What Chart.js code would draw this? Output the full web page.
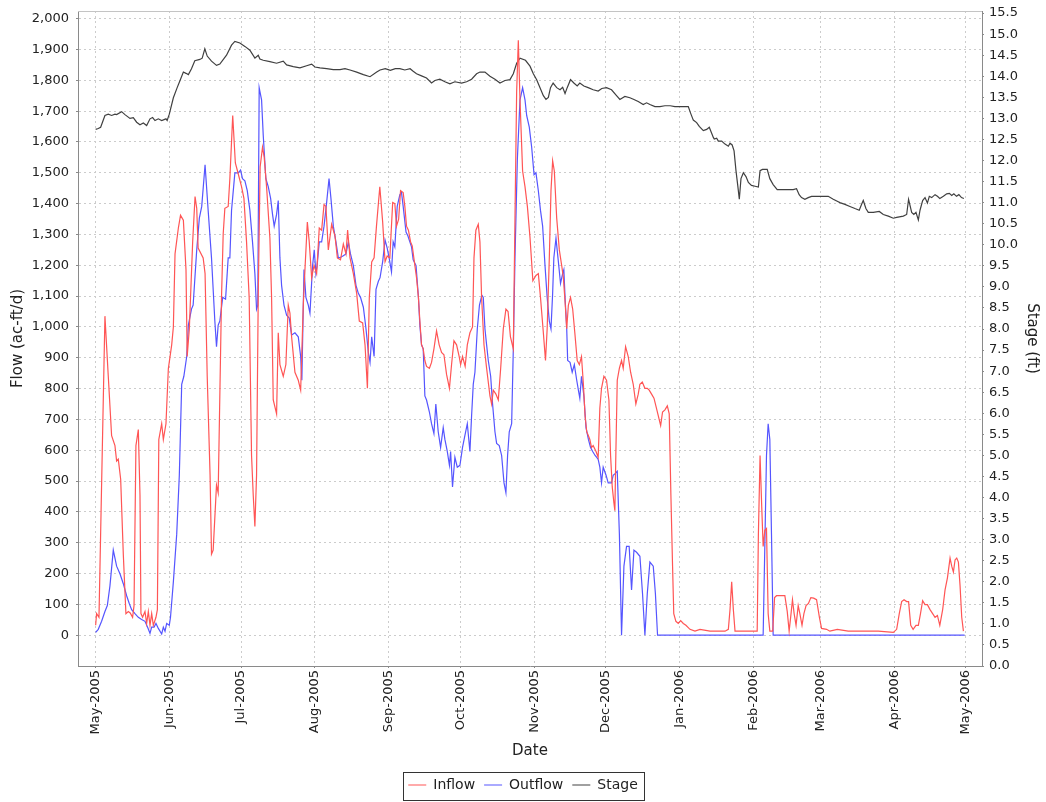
<!DOCTYPE html>
<html>
<head>
<meta charset="utf-8">
<title>Inflow, Outflow and Stage</title>
<script src="https://cdn.jsdelivr.net/npm/chart.js@4.4.1/dist/chart.umd.min.js"></script>
<style>
  html, body { margin: 0; padding: 0; background: #ffffff; }
  canvas { display: block; }
</style>
</head>
<body>
<canvas id="chart" width="1046" height="802"></canvas>
<script>
// Day 0 = 1 May 2005. Month boundaries used for the date axis.
const monthTickDays = [0, 31, 61, 92, 123, 153, 184, 214, 245, 276, 304, 335, 365];
const monthTickLabels = ['May-2005', 'Jun-2005', 'Jul-2005', 'Aug-2005', 'Sep-2005', 'Oct-2005',
  'Nov-2005', 'Dec-2005', 'Jan-2006', 'Feb-2006', 'Mar-2006', 'Apr-2006', 'May-2006'];

// Inflow, ac-ft/d: [day, flow]
const inflow = [
  [0,32],[0.4,70],[1.4,58],[3.9,1035],[5.3,840],[6.7,647],[8.1,615],[8.8,565],[9.5,571],[10.5,506],
  [11.6,263],[12.7,70],[13.7,77],[14.5,72],[15.5,58],[16.1,96],[16.9,615],[17.9,667],[18.6,455],[19,70],
  [19.7,58],[20.7,77],[21.4,38],[22.1,77],[22.8,32],[23.5,70],[24.2,32],[25.3,58],[25.9,83],[26.5,635],
  [27.7,686],[28.4,635],[29.5,686],[30.5,865],[31.9,942],[32.6,1000],[33.3,1237],[34.7,1321],[35.6,1362],[36.8,1346],
  [37.9,1186],[38.4,904],[39.3,994],[40.7,1276],[41.7,1423],[42.4,1385],[43,1256],[45.1,1224],[45.9,1173],[46.8,840],
  [48,519],[48.6,263],[49.3,276],[50.7,487],[51.4,462],[52.8,1096],[53.5,1301],[54.2,1385],[55.6,1391],[56.3,1481],
  [57.5,1686],[58.6,1532],[59.5,1506],[61.2,1455],[62.2,1417],[63.3,1276],[64.4,1096],[65.4,583],[66.1,455],[66.8,353],
  [67.5,519],[68.2,1096],[69,1519],[70,1583],[70.7,1551],[71.7,1455],[73.1,1288],[73.8,1096],[74.5,763],[75.9,718],
  [76.6,981],[77.3,878],[78.7,840],[79.8,878],[80.8,1071],[81.5,1045],[82.2,968],[83.6,853],[85,827],[86,795],
  [87.1,1071],[87.8,1186],[88.8,1340],[89.6,1276],[90.6,1160],[91.6,1199],[92.7,1173],[93.8,1321],[94.8,1314],[95.8,1397],
  [96.6,1391],[97.6,1250],[99,1333],[100.4,1295],[101.4,1224],[102.7,1218],[103.9,1269],[105,1237],[105.7,1314],[106.7,1224],
  [108.1,1173],[109.5,1109],[110.6,1019],[112,1013],[113,942],[114,801],[114.8,1096],[115.8,1211],[116.8,1224],[117.8,1327],
  [119.2,1455],[120.4,1340],[121.4,1212],[122.3,1230],[123.4,1224],[124.6,1404],[125.5,1400],[126.2,1327],[127.1,1350],[127.9,1442],
  [129,1436],[129.7,1391],[130.4,1327],[131.2,1314],[132.1,1276],[132.8,1263],[133.7,1211],[134.6,1160],[135.4,1096],[136,1019],
  [136.7,942],[137.4,929],[138.1,891],[138.8,872],[140,866],[140.9,885],[141.9,929],[143,987],[144.1,942],[145.1,917],
  [146.1,910],[147.2,846],[148.4,801],[149.3,878],[150.3,955],[151.4,942],[152.5,904],[153.1,878],[153.9,904],[155,872],
  [155.9,942],[157,981],[158.1,1000],[158.7,1224],[159.5,1314],[160.5,1333],[161.2,1276],[161.9,1096],[162.9,942],[164,866],
  [165.4,776],[166.1,750],[166.8,795],[167.9,782],[168.9,763],[169.9,866],[171,994],[172.1,1058],[173,1050],[174,968],
  [175.2,929],[175.9,1353],[176.6,1763],[177.3,1930],[178,1737],[179.1,1506],[180.1,1455],[181.1,1391],[182.2,1290],[183.4,1150],
  [184.7,1167],[185.7,1173],[186.6,1096],[187.8,981],[188.7,891],[189.4,994],[190.3,1224],[191,1442],[191.7,1539],[192.4,1506],
  [193.4,1353],[194.5,1250],[195.5,1199],[196.2,1160],[197,1071],[197.6,994],[198.3,1071],[199.2,1096],[200.1,1058],[201,981],
  [202,891],[202.9,878],[203.8,904],[204.6,814],[205.3,712],[206,660],[206.7,647],[207.3,635],[208,609],[208.7,615],
  [209.9,596],[210.8,577],[211.5,737],[212.2,801],[213.2,840],[214.3,827],[215.3,763],[216,583],[216.7,481],[217.4,429],
  [217.8,404],[218.2,583],[218.8,827],[219.7,866],[220.6,891],[221.3,866],[222.3,936],[223.4,904],[224.4,853],[225.5,814],
  [226.6,750],[227.6,782],[228.3,814],[229.3,821],[230.4,801],[231.4,801],[232.2,795],[233.2,782],[234.2,769],[235,744],
  [236,712],[237,680],[237.8,724],[238.8,731],[239.8,744],[240.6,718],[241.3,455],[242,224],[242.5,70],[243.4,45],
  [244.4,38],[245.4,47],[246.5,38],[247.6,32],[249.3,19],[251.4,13],[253.5,19],[257.7,13],[264,13],[265.4,19],
  [266.1,83],[266.8,173],[267.5,83],[268.2,13],[275.1,13],[277.5,13],[278,327],[278.7,583],[279.4,417],[280,288],
  [280.7,340],[281.4,346],[282.1,70],[282.8,13],[284,13],[284.8,122],[285.6,128],[289.1,128],[290.1,77],[290.9,13],
  [291.7,70],[292.3,115],[293,70],[293.8,32],[294.7,96],[295.4,70],[296.3,32],[297.1,70],[298,96],[299,103],
  [300,122],[301.2,120],[302.4,115],[303.6,58],[304.5,22],[306.6,19],[308,13],[311.1,19],[315.7,13],[319.9,13],
  [328.3,13],[334.6,9],[336,19],[337.1,70],[338.1,109],[339.1,115],[340.2,109],[341,109],[341.9,32],[342.9,19],
  [344.1,32],[345.1,32],[346,70],[346.9,112],[347.9,99],[348.9,99],[350,83],[351.1,70],[352.1,58],[353.1,64],
  [354.1,32],[355.3,83],[356.3,147],[357.3,186],[358.4,250],[359.1,224],[359.8,205],[360.5,244],[361.2,250],[361.9,237],
  [362.6,160],[363.3,58],[364,13]
];

// Outflow, ac-ft/d: [day, flow]
const outflow = [
  [0,9],[1.1,19],[2.5,45],[3.9,77],[4.9,96],[6,160],[7.4,276],[8.8,224],[10.2,199],[11.6,167],
  [13,128],[14.1,103],[15.1,83],[16.5,70],[17.9,58],[19.3,51],[20.7,45],[21.8,26],[22.8,6],[23.5,26],
  [24.5,26],[25.3,38],[26.3,22],[27.7,4],[28.4,26],[29.1,13],[29.8,38],[30.9,32],[31.4,58],[32.6,173],
  [34,327],[35.1,519],[36.1,814],[37,840],[38.2,904],[38.9,1006],[40.2,1058],[40.9,1071],[42.4,1250],[43.5,1353],
  [44.5,1391],[45.9,1526],[47.2,1378],[48.6,1224],[50,1019],[50.7,936],[51.4,1006],[52.1,1019],[53.3,1096],[54.5,1090],
  [55.6,1224],[56.3,1224],[57,1378],[58.4,1500],[59.8,1500],[60.8,1509],[61.6,1481],[62.6,1474],[63.6,1442],[64.7,1378],
  [65.8,1276],[66.8,1173],[67.5,1058],[68,1070],[68.6,1776],[69.6,1737],[70.3,1622],[71.4,1481],[72.4,1455],[73.4,1417],
  [74.2,1365],[74.9,1327],[75.9,1365],[76.6,1410],[77.3,1224],[78,1135],[79,1071],[80.1,1038],[81.2,1029],[82.2,974],
  [83.6,981],[85,968],[86,904],[86.5,827],[87.4,1186],[88.2,1096],[89.2,1071],[89.9,1045],[91,1199],[91.7,1250],
  [92.4,1173],[92.9,1199],[93.8,1276],[94.8,1276],[95.8,1327],[96.9,1404],[97.9,1481],[98.7,1417],[99.7,1327],[100.8,1276],
  [101.8,1224],[102.8,1226],[103.9,1231],[105,1237],[106,1276],[106.9,1237],[108.1,1199],[109.2,1135],[110.2,1109],[111.1,1096],
  [112.3,1064],[113.4,994],[114.4,917],[115.1,885],[115.8,968],[116.8,904],[117.6,1122],[118.6,1148],[119.3,1160],[120.4,1212],
  [121.4,1282],[122.3,1256],[123.2,1220],[124.1,1179],[124.8,1276],[125.5,1260],[126.5,1391],[127.6,1429],[128.3,1436],[129,1391],
  [130.2,1308],[131,1295],[131.8,1276],[132.5,1260],[133.2,1218],[134.4,1199],[135.4,1096],[136,1006],[136.7,942],[137.4,929],
  [138.1,776],[138.8,763],[140,724],[140.9,686],[141.9,654],[142.7,750],[143.7,660],[144.7,609],[145.8,673],[146.5,635],
  [147.5,596],[148.4,551],[148.9,596],[149.7,481],[150.7,577],[151.7,545],[152.8,551],[153.9,609],[154.9,648],[155.9,686],
  [157,596],[157.7,712],[158.4,814],[159.1,853],[160.1,994],[161,1071],[162,1103],[162.6,1096],[163.3,994],[164,942],
  [164.7,891],[165.7,840],[166.5,750],[167.5,660],[168.2,622],[169.3,615],[170.3,583],[171.3,494],[172.1,462],[172.8,583],
  [173.5,660],[174.5,686],[175.2,929],[175.9,1224],[176.9,1545],[178,1737],[179.1,1776],[180.1,1737],[180.8,1686],[181.9,1648],
  [182.9,1583],[183.9,1494],[184.7,1500],[185.7,1442],[186.6,1378],[187.5,1327],[188.5,1199],[189.4,1096],[190.3,1019],[191,994],
  [191.7,1109],[192.2,1224],[193.1,1288],[194.1,1212],[195,1141],[195.9,1173],[196.4,1186],[196.9,1096],[197.6,994],[198,891],
  [199,885],[199.9,853],[200.8,878],[201.8,827],[202.5,795],[203.1,769],[203.8,840],[204.8,776],[205.7,673],[206.7,635],
  [207.6,609],[208.5,596],[209.5,583],[210.2,577],[210.8,570],[211.5,545],[212.2,494],[212.9,545],[214.1,519],[215,494],
  [216.4,494],[217.1,519],[218,525],[218.8,532],[219.7,327],[220.6,0],[221.6,224],[222.7,288],[223.8,288],[224.8,147],
  [225.8,276],[226.9,269],[228.3,256],[229.4,135],[230.4,0],[231.4,135],[232.5,237],[233.9,224],[234.8,135],[235.7,0],
  [280,0],[280.7,288],[281.4,583],[282.1,686],[282.8,635],[283.5,327],[284.2,0],[364.5,0]
];

// Stage, ft: [day, stage]
const stage = [
  [0,12.74],[1.1,12.76],[2.1,12.79],[3.9,13.07],[5.3,13.1],[6.7,13.07],[8.1,13.1],[8.8,13.09],[10.9,13.16],[12.3,13.09],
  [14.4,13],[15.8,13.02],[17.2,12.91],[18.6,12.85],[20,12.89],[21.4,12.83],[22.8,12.99],[23.9,13.02],[24.9,12.95],[26.3,12.99],
  [27.7,12.95],[29.5,12.99],[30,12.95],[30.9,13.1],[32.6,13.49],[34.2,13.73],[35.4,13.9],[36.8,14.1],[37.9,14.07],[38.9,14.04],
  [40.2,14.18],[41.6,14.37],[43.7,14.4],[44.7,14.43],[45.8,14.65],[46.8,14.48],[48.6,14.36],[50.7,14.26],[52.1,14.29],[54.9,14.5],
  [57,14.74],[58.4,14.83],[60.5,14.79],[62.6,14.71],[64.7,14.62],[66.8,14.43],[68.2,14.5],[68.9,14.41],[70.3,14.38],[73.1,14.35],
  [75.9,14.31],[78.7,14.36],[80.1,14.27],[82.9,14.23],[85.7,14.2],[88.5,14.25],[90.6,14.29],[92,14.22],[94.1,14.2],[96.9,14.18],
  [99.7,14.16],[102.5,14.16],[104.6,14.18],[106.7,14.15],[109.5,14.1],[112.3,14.04],[115.1,13.99],[117.9,14.1],[119.3,14.15],[121.5,14.18],
  [123.6,14.14],[125.7,14.18],[127.6,14.18],[129.7,14.15],[131.9,14.18],[133.2,14.12],[134.6,14.06],[136.7,14.01],[138.8,13.96],[140.9,13.84],
  [142.3,13.9],[144.4,13.93],[146.5,13.87],[148.6,13.82],[150.7,13.87],[153.5,13.84],[155.6,13.87],[157.7,13.93],[159.8,14.06],[161.2,14.1],
  [163.3,14.1],[165.4,14],[167.5,13.93],[169.6,13.84],[171.7,13.9],[173.8,13.92],[175.2,14.06],[176.6,14.31],[178,14.43],[180.3,14.38],
  [182.2,14.24],[183.6,14.06],[185,13.92],[186.4,13.73],[187.8,13.54],[188.9,13.45],[189.9,13.5],[190.8,13.73],[191.9,13.84],[193.4,13.73],
  [194.8,13.68],[195.9,13.74],[196.9,13.59],[197.8,13.73],[199.2,13.92],[200.6,13.84],[202,13.77],[203.1,13.84],[204.8,13.77],[206.6,13.73],
  [208.7,13.68],[210.8,13.65],[212.3,13.71],[214.3,13.73],[216.4,13.68],[218.5,13.54],[219.9,13.45],[222,13.52],[224.1,13.49],[225.8,13.45],
  [227.6,13.4],[229.7,13.33],[231.1,13.37],[232.5,13.33],[234.6,13.28],[236.7,13.28],[238.8,13.3],[241,13.3],[243,13.28],[248.6,13.28],
  [249.6,13.12],[250.7,12.96],[252.1,12.9],[253.2,12.81],[254.9,12.71],[256.3,12.74],[257.4,12.79],[258.4,12.65],[259.1,12.55],[259.5,12.51],
  [260.5,12.53],[261.2,12.46],[262.6,12.46],[264,12.39],[265.4,12.34],[266.1,12.41],[267,12.37],[267.8,12.23],[268.6,11.76],[269.4,11.38],
  [270,11.08],[270.7,11.57],[271.7,11.71],[272.8,11.62],[273.8,11.48],[275.1,11.41],[276.6,11.39],[278,11.37],[278.7,11.76],[279.7,11.79],
  [281.7,11.79],[282.8,11.57],[284.2,11.43],[285.9,11.31],[292.6,11.31],[294,11.33],[295.1,11.19],[296.1,11.12],[297.5,11.08],[298.9,11.12],
  [300.3,11.15],[307.3,11.15],[309.4,11.08],[311.5,11.02],[312.2,11],[314.3,10.96],[316.4,10.91],[318.5,10.86],[320.3,10.82],[321.3,10.96],
  [322,11.05],[323.1,10.86],[324.1,10.77],[326.2,10.77],[328.7,10.79],[330.4,10.72],[332.5,10.68],[334.6,10.63],[336,10.65],[338.8,10.68],
  [340.2,10.72],[341,11.08],[342.3,10.77],[343.2,10.72],[344.1,10.77],[345.1,10.59],[345.8,10.82],[346.9,11.05],[347.9,11.12],[348.9,10.99],
  [349.7,11.15],[350.7,11.12],[352.1,11.19],[353.1,11.15],[354.1,11.1],[355.6,11.15],[357,11.21],[358.1,11.22],[359.1,11.17],[360,11.21],
  [361.1,11.15],[362.1,11.19],[363.2,11.12],[364.2,11.1]
];

const flowTicks = [];
for (let v = 0; v <= 2000; v += 100) flowTicks.push(v);
const stageTicks = [];
for (let v = 0; v <= 15.5; v += 0.5) stageTicks.push(v);

const toPoints = rows => rows.map(([x, y]) => ({ x, y }));

const FONT = "'DejaVu Sans', 'Liberation Sans', sans-serif";
const gridColor = '#cccccc';
const axisColor = '#8a8a8a';
const textColor = '#222222';
const tickFont = { family: FONT, size: 13 };
const titleFont = { family: FONT, size: 15 };

// Plot top edge and the framed legend.
const framePlugin = {
  id: 'frame',
  afterDraw(chart) {
    const { ctx, chartArea: a, legend } = chart;
    ctx.save();
    ctx.lineWidth = 1;
    ctx.strokeStyle = '#c4c4c4';
    ctx.beginPath();
    ctx.moveTo(a.left, Math.round(a.top) + 0.5);
    ctx.lineTo(a.right, Math.round(a.top) + 0.5);
    ctx.stroke();
    const hb = legend && legend.legendHitBoxes;
    if (hb && hb.length) {
      const last = hb[hb.length - 1];
      const x0 = Math.round(hb[0].left) - 5 + 0.5;
      const x1 = Math.round(last.left + last.width) + 6 + 0.5;
      const y0 = Math.round(hb[0].top) - 6 + 0.5;
      ctx.strokeStyle = '#333333';
      ctx.strokeRect(x0, y0, x1 - x0, 28);
    }
    ctx.restore();
  }
};

new Chart(document.getElementById('chart'), {
  type: 'line',
  data: {
    datasets: [
      { label: 'Inflow', data: toPoints(inflow), borderColor: '#ff5555', backgroundColor: '#ff5555', yAxisID: 'y' },
      { label: 'Outflow', data: toPoints(outflow), borderColor: '#5555ff', backgroundColor: '#5555ff', yAxisID: 'y' },
      { label: 'Stage', data: toPoints(stage), borderColor: '#404040', backgroundColor: '#404040', yAxisID: 'y1' }
    ]
  },
  options: {
    responsive: false,
    animation: false,
    devicePixelRatio: 1,
    elements: {
      point: { radius: 0, hoverRadius: 0 },
      line: { borderWidth: 1.2, tension: 0, fill: false }
    },
    layout: { padding: { top: 11, left: 0, right: 0, bottom: 0 } },
    plugins: {
      tooltip: { enabled: false },
      legend: {
        position: 'bottom',
        labels: {
          boxWidth: 18,
          boxHeight: 1,
          padding: 9,
          color: textColor,
          font: { family: FONT, size: 14 },
          generateLabels(chart) {
            return Chart.defaults.plugins.legend.labels.generateLabels(chart)
              .map(item => Object.assign(item, { lineWidth: 0 }));
          }
        }
      }
    },
    scales: {
      x: {
        type: 'linear',
        min: -7.4,
        max: 371.8,
        afterBuildTicks(scale) { scale.ticks = monthTickDays.map(v => ({ value: v })); },
        afterFit(scale) { scale.height = 103; scale.paddingLeft = 0; scale.paddingRight = 0; },
        ticks: {
          autoSkip: false, minRotation: 90, maxRotation: 90, padding: 2,
          color: textColor, font: tickFont,
          callback(value) { const i = monthTickDays.indexOf(value); return i >= 0 ? monthTickLabels[i] : ''; }
        },
        grid: { color: gridColor, lineWidth: 1, drawTicks: true, tickLength: 2, tickColor: axisColor, tickBorderDash: [] },
        border: { display: true, color: axisColor, width: 1, dash: [2, 3] },
        title: { display: true, text: 'Date', color: textColor, font: titleFont, padding: { top: 0, bottom: 9 } }
      },
      y: {
        type: 'linear',
        position: 'left',
        min: -100,
        max: 2025,
        afterBuildTicks(scale) { scale.ticks = flowTicks.map(v => ({ value: v })); },
        afterFit(scale) { scale.width = 78; scale.paddingTop = 0; scale.paddingBottom = 0; },
        ticks: {
          padding: 7, color: textColor, font: tickFont,
          callback(value) { return value.toLocaleString('en-US'); }
        },
        grid: { color: gridColor, lineWidth: 1, drawTicks: true, tickLength: 2, tickColor: axisColor, tickBorderDash: [] },
        border: { display: true, color: axisColor, width: 1, dash: [2, 3] },
        title: { display: true, text: 'Flow (ac-ft/d)', color: textColor, font: titleFont, padding: { top: 9, bottom: 0 } }
      },
      y1: {
        type: 'linear',
        position: 'right',
        min: 0,
        max: 15.55,
        afterBuildTicks(scale) { scale.ticks = stageTicks.map(v => ({ value: v })); },
        afterFit(scale) { scale.width = 64; scale.paddingTop = 0; scale.paddingBottom = 0; },
        ticks: {
          padding: 5, color: textColor, font: tickFont,
          callback(value) { return value.toFixed(1); }
        },
        grid: { drawOnChartArea: false, drawTicks: true, tickLength: 2, tickColor: axisColor, tickBorderDash: [] },
        border: { display: true, color: axisColor, width: 1 },
        title: { display: true, text: 'Stage (ft)', color: textColor, font: titleFont, padding: { top: 5, bottom: 0 } }
      }
    }
  },
  plugins: [framePlugin]
});
</script>
</body>
</html>
